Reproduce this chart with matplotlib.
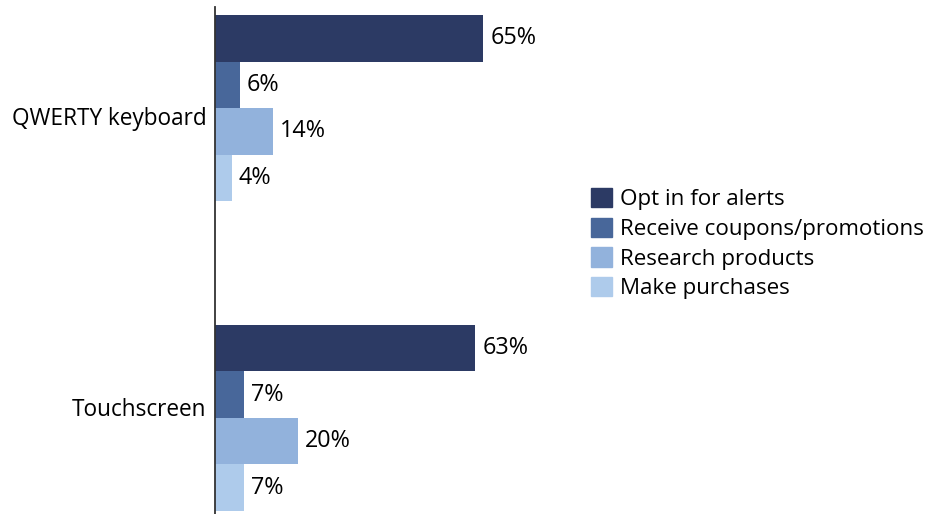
import numpy as np
import matplotlib.pyplot as plt
from matplotlib.patches import Patch

plt.rcParams["font.family"] = ["Open Sans", "DejaVu Sans"]

categories = ["QWERTY keyboard", "Touchscreen"]
series = ["Opt in for alerts", "Receive coupons/promotions", "Research products", "Make purchases"]
values = [
    [65, 63],  # Opt in for alerts
    [6, 7],    # Receive coupons/promotions
    [14, 20],  # Research products
    [4, 7],    # Make purchases
]
colors = ["#2c3a64", "#48679a", "#92b2dc", "#aecbeb"]

fig = plt.figure(figsize=(9.33, 5.14), dpi=100)
ax = fig.add_axes([215 / 933, 0, 413 / 933, 507 / 514])

bar_h = 0.15
y = np.arange(len(categories))
for i, (name, vals) in enumerate(zip(series, values)):
    pos = y + (i - 1.5) * bar_h
    ax.barh(pos, vals, height=bar_h, color=colors[i], label=name)
    for p, v in zip(pos, vals):
        ax.text(v + 1.7, p, f"{v}%", va="center", ha="left", fontsize=16.8)

ax.set_xlim(0, 100)
ax.set_ylim(1.31, -0.326)
ax.set_yticks(y + np.array([0.025, -0.035]))
ax.set_yticklabels(categories, fontsize=16.3)
ax.tick_params(axis="y", length=0, pad=6)
ax.set_xticks([])
for side in ["top", "right", "bottom"]:
    ax.spines[side].set_visible(False)
ax.spines["left"].set_color("#333333")
ax.spines["left"].set_linewidth(1.3)

handles = [Patch(color=c, label=s) for c, s in zip(colors, series)]
fig.legend(handles=handles, loc="upper left", bbox_to_anchor=(582 / 933, 1 - 179 / 514),
           frameon=False, fontsize=16.1, handlelength=0.95, handleheight=0.95,
           handletextpad=0.35, labelspacing=0.33, borderaxespad=0)

fig.savefig("out.png", dpi=100)
